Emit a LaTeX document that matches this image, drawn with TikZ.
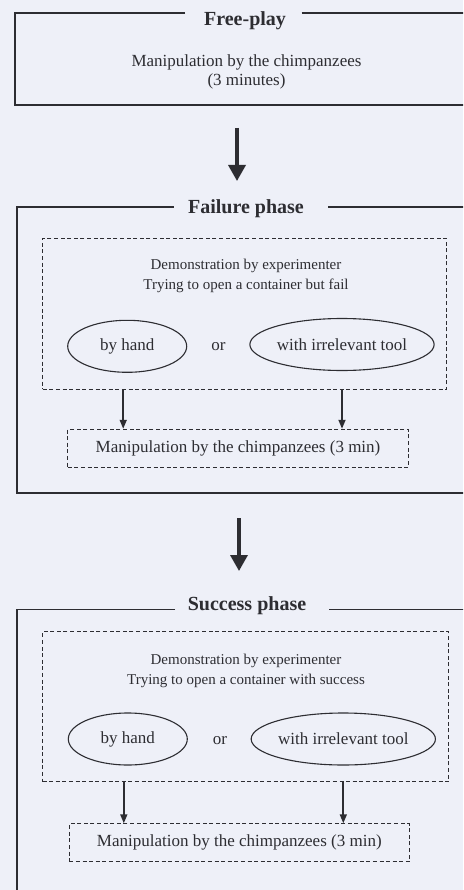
\documentclass[tikz,border=0pt]{standalone}
\usepackage{fontspec}
\setmainfont{Liberation Serif}
\usetikzlibrary{shapes.geometric,arrows.meta}
\definecolor{bg}{RGB}{238,240,248}
\definecolor{ink}{RGB}{45,45,50}
\begin{document}
\begin{tikzpicture}[x=1pt,y=-1pt,
  frame/.style={draw=ink,line width=1.8pt},
  ttl/.style={font=\fontsize{20}{22}\selectfont\bfseries,text=ink,inner sep=0pt},
  txt/.style={font=\fontsize{17}{19}\selectfont,text=ink,align=center,inner sep=0pt},
  demotxt/.style={font=\fontsize{15}{20}\selectfont,text=ink,align=center,inner sep=0pt},
  dbox/.style={draw=ink,dash pattern=on 4pt off 2.6pt,line width=1.1pt,inner sep=0pt},
  oval/.style={ellipse,draw=ink,line width=1.1pt,inner sep=0pt,minimum height=52pt,font=\fontsize{17}{19}\selectfont,text=ink},
  bigarr/.style={draw=ink,line width=3.4pt,-{Triangle[width=17pt,length=16pt]}},
  smallarr/.style={draw=ink,line width=1.7pt,-{Triangle[width=7pt,length=9pt]}}]
\fill[bg] (0,0) rectangle (463,890);
\useasboundingbox (0,0) rectangle (463,890);
\clip (0,0) rectangle (463,890);

% ---------- Free-play ----------
\node[ttl] (fpT) at (245,21) {Free-play};
\draw[frame] (185,12.7) -- (15,12.7) -- (15,105) -- (475,105);
\draw[frame] (301.7,12.7) -- (475,12.7);
\node[txt] (fpX) at (246.5,72.2) {Manipulation by the chimpanzees\\(3 minutes)};

\coordinate (a1s) at (237,128);
\coordinate (a1e) at (237,181);
\draw[bigarr] (a1s) -- (a1e);

% ---------- Failure phase ----------
\node[ttl] (flT) at (246,209) {Failure phase};
\draw[frame] (173.5,206.7) -- (16.7,206.7) -- (16.7,492.7) -- (475,492.7);
\draw[frame] (328.3,206.7) -- (475,206.7);
\node[dbox,minimum width=404pt,minimum height=151pt] (demoF) at (244.7,313.8) {};
\node[demotxt] (dtF) at (246,276.3) {Demonstration by experimenter\\Trying to open a container but fail};
\node[oval,minimum width=119pt] (handF) at (127.2,346.3) {by hand};
\node[txt] (orF) at (218.5,346.7) {or};
\node[oval,minimum width=183pt] (toolF) at (342,344.5) {with irrelevant tool};
\node[dbox,minimum width=340.6pt,minimum height=38pt,font=\fontsize{17}{19}\selectfont,text=ink] (manF) at (238,448.3) {Manipulation by the chimpanzees (3 min)};
\draw[smallarr] ([xshift=-4pt]demoF.south -| handF.center) -- ([xshift=-4pt]manF.north -| handF.center);
\draw[smallarr] (demoF.south -| toolF.center) -- (manF.north -| toolF.center);

\coordinate (a2s) at (239,518);
\coordinate (a2e) at (239,571);
\draw[bigarr] (a2s) -- (a2e);

% ---------- Success phase ----------
\node[ttl] (scT) at (247,606) {Success phase};
\draw[frame] (175,609.5) -- (17.3,609.5) -- (17.3,900);
\draw[frame] (329,609.5) -- (475,609.5);
\node[dbox,minimum width=406pt,minimum height=150pt] (demoS) at (245.5,706.7) {};
\node[demotxt] (dtS) at (246,670.7) {Demonstration by experimenter\\Trying to open a container with success};
\node[oval,minimum width=119pt] (handS) at (127.8,739) {by hand};
\node[txt] (orS) at (220,740.5) {or};
\node[oval,minimum width=183pt] (toolS) at (343.3,739) {with irrelevant tool};
\node[dbox,minimum width=340pt,minimum height=38pt,font=\fontsize{17}{19}\selectfont,text=ink] (manS) at (239.3,842.8) {Manipulation by the chimpanzees (3 min)};
\draw[smallarr] ([xshift=-4pt]demoS.south -| handS.center) -- ([xshift=-4pt]manS.north -| handS.center);
\draw[smallarr] (demoS.south -| toolS.center) -- (manS.north -| toolS.center);
\end{tikzpicture}
\end{document}
